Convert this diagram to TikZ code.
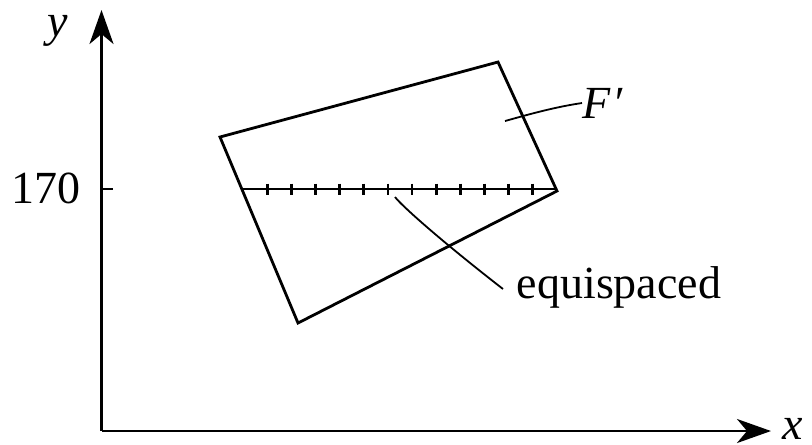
\documentclass[tikz,border=0pt]{standalone}
\usepackage{fontspec}
\setmainfont{Liberation Serif}
\usetikzlibrary{arrows.meta}
\begin{document}
\begin{tikzpicture}[x=0.25pt,y=-0.25pt,
  line/.style={line width=0.7pt},
  thin line/.style={line width=0.45pt},
  axis/.style={line width=0.7pt,-{Stealth[length=8.5pt,width=6pt,inset=2.5pt]}},
  lbl/.style={inner sep=0pt,font=\fontsize{11.5}{13}\selectfont}]
\useasboundingbox (0,0) rectangle (812,444);
% axes
\coordinate (O) at (101.5,431);
\coordinate (ytip) at (101.5,10);
\coordinate (xtip) at (771,431);
\draw[axis] (O) -- (ytip);
\draw[axis] (O) -- (xtip);
\node[lbl] (ylab) at (58,31) {\textit{y}};
\node[lbl,anchor=east] (xlab) at (804,429) {\textit{x}};
\node[lbl] (v170) at (46,188) {170};
\coordinate (t170) at (101.5,189);
\draw[line] (t170) -- ++(11,0);
% quadrilateral
\coordinate (A) at (220,137);
\coordinate (B) at (498,62);
\coordinate (C) at (557,191);
\coordinate (D) at (298,323);
\draw[line,line join=miter] (A) -- (B) -- (C) -- (D) -- cycle;
% equispaced line
\coordinate (L) at (243,189);
\coordinate (R) at (557,189);
\draw[line] (L) -- (R);
\foreach \k in {1,...,12}{
  \draw[line] ({243+\k*24.15},183.5) -- ++(0,11);
}
% labels
\node[lbl,anchor=west] (Fp) at (582,103) {\textit{F\kern0.3pt′}};
\coordinate (Fs) at (505,121);
\draw[thin line] (Fs) .. controls (530,114) and (555,107) .. (Fp.west);
\node[lbl,anchor=west] (eq) at (516,287) {equispaced};
\coordinate (Es) at (395,197);
\coordinate (Ee) at (503,289);
\draw[thin line] (Es) .. controls (402,206) and (440,240) .. (Ee);
\end{tikzpicture}
\end{document}
